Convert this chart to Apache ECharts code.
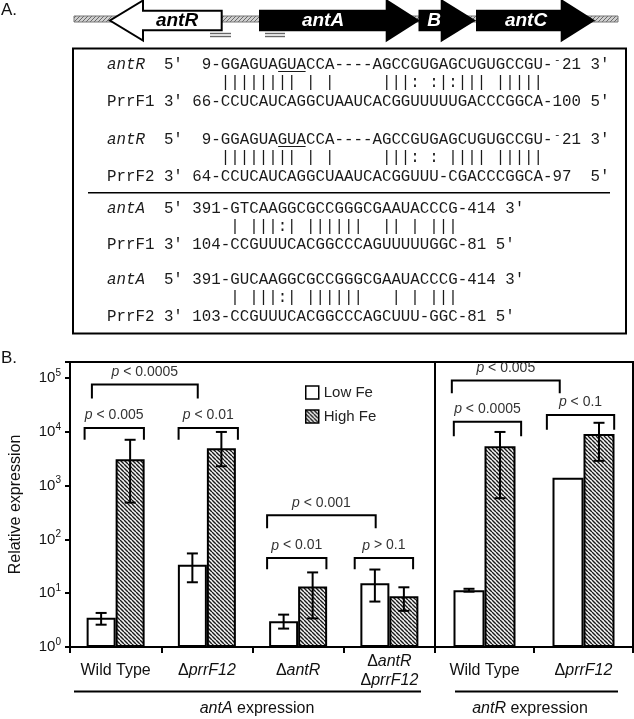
<!DOCTYPE html>
<html>
<head>
<meta charset="utf-8">
<script src="https://cdn.jsdelivr.net/npm/echarts@6.0.0/dist/echarts.min.js"></script>
<style>
html,body{margin:0;padding:0;background:#fff;}
#chart{width:634px;height:719px;}
</style>
</head>
<body>
<div id="chart"></div>
<script>
// ===================== DATA =====================
const leftCategories = ['Wild Type', 'ΔprrF12', 'ΔantR', 'ΔantR\nΔprrF12'];
const rightCategories = ['Wild Type', 'ΔprrF12'];
const seriesNames = ['Low Fe', 'High Fe'];

// antA expression panel
const lowFeLeft = [3.5, 34, 3.0, 15.4];
const lowFeLeftErrLow = [2.6, 16, 2.2, 7.0];
const lowFeLeftErrHigh = [4.3, 55, 4.0, 27.6];
const highFeLeft = [3100, 5000, 13.3, 8.8];
const highFeLeftErrLow = [485, 2300, 3.4, 4.7];
const highFeLeftErrHigh = [7150, 10000, 24.4, 12.9];

// antR expression panel
const lowFeRight = [11.4, 1400];
const lowFeRightErrLow = [10.7, null];
const lowFeRightErrHigh = [12.1, null];
const highFeRight = [5400, 9200];
const highFeRightErrLow = [585, 2900];
const highFeRightErrHigh = [10000, 14800];

const yTickExponents = [0, 1, 2, 3, 4, 5];

// significance brackets: [startCategory, startOffset, endCategory, endOffset, topValue, legValue]
const leftBrackets = [
  [0, -0.26, 1, -0.10, 76000, 42000],
  [0, -0.34, 0, 0.31, 11900, 7150],
  [1, -0.31, 1, 0.34, 11900, 7150],
  [2, -0.34, 3, -0.15, 282, 161],
  [2, -0.34, 2, 0.31, 45, 28],
  [3, -0.38, 3, 0.26, 45, 28]
];
const leftBracketLabels = ['p < 0.0005', 'p < 0.005', 'p < 0.01', 'p < 0.001', 'p < 0.01', 'p > 0.1'];
const rightBrackets = [
  [0, -0.33, 1, -0.24, 91000, 52500],
  [0, -0.31, 0, 0.37, 15500, 8300],
  [1, -0.37, 1, 0.31, 20700, 11000]
];
const rightBracketLabels = ['p < 0.005', 'p < 0.0005', 'p < 0.1'];

// Part A: sequence alignment rows
const alignRows = [
  { y: 65,    italicLabel: true,  text: "antR  5'  9-GGAGUAGUACCA----AGCCGUGAGCUGUGCCGU- 21 3'", supMinusCol: 47, underline: [18, 21] },
  { y: 83.3,  italicLabel: false, text: "            |||||||| | |     |||: :|:||| |||||" },
  { y: 101.6, italicLabel: false, text: "PrrF1 3' 66-CCUCAUCAGGCUAAUCACGGUUUUUGACCCGGCA-100 5'" },
  { y: 140,   italicLabel: true,  text: "antR  5'  9-GGAGUAGUACCA----AGCCGUGAGCUGUGCCGU- 21 3'", supMinusCol: 47, underline: [18, 21] },
  { y: 158.3, italicLabel: false, text: "            |||||||| | |     |||: : |||| |||||" },
  { y: 176.6, italicLabel: false, text: "PrrF2 3' 64-CCUCAUCAGGCUAAUCACGGUUU-CGACCCGGCA-97  5'" },
  { y: 208.4, italicLabel: true,  text: "antA  5' 391-GTCAAGGCGCCGGGCGAAUACCCG-414 3'" },
  { y: 226.7, italicLabel: false, text: "             | |||:| ||||||  || | |||" },
  { y: 245,   italicLabel: false, text: "PrrF1 3' 104-CCGUUUCACGGCCCAGUUUUUGGC-81 5'" },
  { y: 280,   italicLabel: true,  text: "antA  5' 391-GUCAAGGCGCCGGGCGAAUACCCG-414 3'" },
  { y: 298.3, italicLabel: false, text: "             | |||:| ||||||   | | |||" },
  { y: 316.6, italicLabel: false, text: "PrrF2 3' 103-CCGUUUCACGGCCCAGCUUU-GGC-81 5'" }
];

// Part A: gene map (name, bodyStart, headStart, tip)
const genes = [
  { name: 'antR', x0: 221.7, x1: 143, tip: 110, fill: '#fff', textFill: '#000', labelX: 177 },
  { name: 'antA', x0: 260, x1: 386.7, tip: 418, fill: '#000', textFill: '#fff', labelX: 323 },
  { name: 'B',    x0: 419.5, x1: 441.7, tip: 474, fill: '#000', textFill: '#fff', labelX: 434 },
  { name: 'antC', x0: 477, x1: 561.7, tip: 593.3, fill: '#000', textFill: '#fff', labelX: 526 }
];

// ===================== STYLE HELPERS =====================
const SANS = '"Liberation Sans", Arial, Helvetica, sans-serif';
const MONO = '"Liberation Mono", "DejaVu Sans Mono", monospace';

function makeHatch(size, bg, fg, lw, dir) {
  const c = document.createElement('canvas');
  c.width = size; c.height = size;
  const g = c.getContext('2d');
  g.fillStyle = bg; g.fillRect(0, 0, size, size);
  g.strokeStyle = fg; g.lineWidth = lw;
  g.beginPath();
  for (let k = -1; k <= 1; k++) {
    if (dir > 0) { g.moveTo(k * size, 0); g.lineTo(k * size + size, size); }
    else { g.moveTo(k * size, size); g.lineTo(k * size + size, 0); }
  }
  g.stroke();
  return c;
}
const barHatch = { image: makeHatch(4, '#f4f4f4', '#1a1a1a', 1.4, 1), repeat: 'repeat' };
const lineHatch = { image: makeHatch(4, '#d0d0d0', '#6a6a6a', 1, -1), repeat: 'repeat' };

// ===================== PART A GRAPHICS =====================
const graphics = [];
graphics.push({ type: 'text', x: 1, y: 10, style: { text: 'A.', font: '17px ' + SANS, fill: '#111', textVerticalAlign: 'middle' } });
graphics.push({ type: 'text', x: 1, y: 358, style: { text: 'B.', font: '17px ' + SANS, fill: '#111', textVerticalAlign: 'middle' } });

// hatched DNA line
graphics.push({ type: 'rect', shape: { x: 74, y: 16, width: 544, height: 6 }, style: { fill: lineHatch, stroke: '#777', lineWidth: 1 } });
const cy = 20.5, bh = 9.7, hh = 20;
genes.forEach(g => {
  const pts = [[g.x0, cy - bh], [g.x1, cy - bh], [g.x1, cy - hh], [g.tip, cy], [g.x1, cy + hh], [g.x1, cy + bh], [g.x0, cy + bh]];
  graphics.push({ type: 'polygon', shape: { points: pts }, style: { fill: g.fill, stroke: '#000', lineWidth: 2 } });
  graphics.push({ type: 'text', x: g.labelX, y: cy + 0.5, style: { text: g.name, font: 'italic bold 19px ' + SANS, fill: g.textFill, textAlign: 'center', textVerticalAlign: 'middle' } });
});
// double underlines marking target regions
[[210, 231], [265, 285]].forEach(r => {
  [33.5, 36.5].forEach(yy => graphics.push({ type: 'line', shape: { x1: r[0], y1: yy, x2: r[1], y2: yy }, style: { stroke: '#666', lineWidth: 1.4 } }));
});

// alignment box
graphics.push({ type: 'rect', shape: { x: 73, y: 48.5, width: 553, height: 285 }, style: { fill: null, stroke: '#000', lineWidth: 2 } });
graphics.push({ type: 'line', shape: { x1: 88, y1: 192.7, x2: 610, y2: 192.7 }, style: { stroke: '#000', lineWidth: 1.6 } });

const fs = 15.8, cw = fs * 0.6, x0 = 107;
alignRows.forEach(r => {
  let rest = r.text, startCol = 0;
  if (r.italicLabel) {
    graphics.push({ type: 'text', x: x0, y: r.y, style: { text: r.text.slice(0, 4), font: 'italic ' + fs + 'px ' + MONO, fill: '#1a1a1a', textVerticalAlign: 'middle' } });
    rest = r.text.slice(4); startCol = 4;
  }
  graphics.push({ type: 'text', x: x0 + startCol * cw, y: r.y, style: { text: rest, font: fs + 'px ' + MONO, fill: '#1a1a1a', textVerticalAlign: 'middle' } });
  if (r.supMinusCol) {
    graphics.push({ type: 'text', x: x0 + (r.supMinusCol + 0.5) * cw, y: r.y - 5, style: { text: '-', font: '11px ' + MONO, fill: '#1a1a1a', textAlign: 'center', textVerticalAlign: 'middle' } });
  }
  if (r.underline) {
    graphics.push({ type: 'line', shape: { x1: x0 + r.underline[0] * cw + 0.5, y1: r.y + 6.5, x2: x0 + r.underline[1] * cw - 0.5, y2: r.y + 6.5 }, style: { stroke: '#1a1a1a', lineWidth: 1 } });
  }
});

// group labels under panel B
graphics.push({ type: 'line', shape: { x1: 74, y1: 691.5, x2: 421, y2: 691.5 }, style: { stroke: '#000', lineWidth: 2 } });
graphics.push({ type: 'line', shape: { x1: 455, y1: 691.5, x2: 618, y2: 691.5 }, style: { stroke: '#000', lineWidth: 2 } });
const groupRich = {
  i: { fontStyle: 'italic', fontSize: 16, fontFamily: SANS, fill: '#111' },
  n: { fontSize: 16, fontFamily: SANS, fill: '#111' }
};
graphics.push({ type: 'text', x: 257, y: 709, style: { text: '{i|antA}{n| expression}', rich: groupRich, font: '16px ' + SANS, fill: '#111', textAlign: 'center', textVerticalAlign: 'middle' } });
graphics.push({ type: 'text', x: 530, y: 709, style: { text: '{i|antR}{n| expression}', rich: groupRich, font: '16px ' + SANS, fill: '#111', textAlign: 'center', textVerticalAlign: 'middle' } });

// ===================== PART B SERIES =====================
function errData(lo, hi, side) {
  const out = [];
  lo.forEach((v, i) => { if (v != null) out.push([i, side, v, hi[i]]); });
  return out;
}
function errRender(bw) {
  return function (params, api) {
    const c = api.value(0), side = api.value(1), lo = api.value(2), hi = api.value(3);
    const pt = api.coord([c, hi]), pb = api.coord([c, lo]);
    const x = pt[0] + side * bw / 2;
    const st = { stroke: '#000', lineWidth: 2 };
    return { type: 'group', children: [
      { type: 'line', shape: { x1: x, y1: pt[1], x2: x, y2: pb[1] }, style: st },
      { type: 'line', shape: { x1: x - 5.5, y1: pt[1], x2: x + 5.5, y2: pt[1] }, style: st },
      { type: 'line', shape: { x1: x - 5.5, y1: pb[1], x2: x + 5.5, y2: pb[1] }, style: st }
    ] };
  };
}
const pRich = {
  i: { fontStyle: 'italic', fontSize: 14, fontFamily: SANS, fill: '#333' },
  n: { fontSize: 14, fontFamily: SANS, fill: '#333' }
};
function bracketRender(labels) {
  return function (params, api) {
    const i = params.dataIndex;
    const c1 = api.value(0), o1 = api.value(1), c2 = api.value(2), o2 = api.value(3), top = api.value(4), leg = api.value(5);
    const band = api.coord([1, top])[0] - api.coord([0, top])[0];
    const x1 = api.coord([c1, top])[0] + o1 * band;
    const x2 = api.coord([c2, top])[0] + o2 * band;
    const yT = api.coord([c1, top])[1], yL = api.coord([c1, leg])[1];
    const lab = labels[i];
    return { type: 'group', children: [
      { type: 'polyline', shape: { points: [[x1, yL], [x1, yT], [x2, yT], [x2, yL]] }, style: { stroke: '#000', lineWidth: 2, fill: null } },
      { type: 'text', x: (x1 + x2) / 2, y: yT - 12.5, style: { text: '{i|' + lab.slice(0, 1) + '}{n|' + lab.slice(1) + '}', rich: pRich, font: '14px ' + SANS, fill: '#333', textAlign: 'center', textVerticalAlign: 'middle' } }
    ] };
  };
}

function xAxisFor(gridIndex, cats) {
  return {
    type: 'category', gridIndex, data: cats,
    axisLine: { show: true, onZero: false, lineStyle: { color: '#000', width: 2 } },
    axisTick: { show: true, length: 6, interval: 0, lineStyle: { color: '#000', width: 2 } },
    axisLabel: {
      interval: 0, margin: 24, verticalAlign: 'middle', lineHeight: 18.5,
      fontSize: 16, fontFamily: SANS, color: '#111',
      formatter: v => v.replace(/(prrF12|antR)/g, '{i|$1}'),
      rich: { i: { fontStyle: 'italic', fontSize: 16, fontFamily: SANS, color: '#111', lineHeight: 18.5 } }
    },
    splitLine: { show: false }
  };
}
function yAxisFor(gridIndex, showLabels) {
  return {
    type: 'log', logBase: 10, gridIndex, min: 1, max: 200000, splitNumber: 5,
    axisLine: { show: showLabels, lineStyle: { color: '#000', width: 2 } },
    axisTick: { show: showLabels, length: 5, lineStyle: { color: '#000', width: 2 } },
    splitLine: { show: false }, minorTick: { show: false },
    axisLabel: {
      show: showLabels, margin: 9,
      formatter: v => {
        const e = Math.log10(v);
        const r = Math.round(e);
        if (Math.abs(e - r) > 1e-6 || yTickExponents.indexOf(r) < 0) return '';
        return '{b|10}{s|' + r + '}';
      },
      rich: {
        b: { fontSize: 15, fontFamily: SANS, color: '#111' },
        s: { fontSize: 10, fontFamily: SANS, color: '#111', padding: [0, 0, 10, 0] }
      }
    },
    name: showLabels ? 'Relative expression' : '',
    nameLocation: 'middle', nameGap: 46, nameRotate: 90,
    nameTextStyle: { fontSize: 16, fontFamily: SANS, color: '#111' }
  };
}

const option = {
  animation: false,
  backgroundColor: '#fff',
  graphic: { elements: graphics },
  legend: {
    data: seriesNames, orient: 'vertical', left: 305, top: 385, padding: 0,
    itemWidth: 13, itemHeight: 13, itemGap: 9, icon: 'rect', selectedMode: false,
    textStyle: { fontSize: 15, fontFamily: SANS, color: '#222', lineHeight: 13 },
    itemStyle: { borderColor: '#000', borderWidth: 1.5 }
  },
  grid: [
    { left: 70, right: 199, top: 362, bottom: 72, show: true, borderColor: '#000', borderWidth: 2, backgroundColor: 'transparent', containLabel: false, outerBoundsMode: 'none' },
    { left: 435, right: 1, top: 362, bottom: 72, show: true, borderColor: '#000', borderWidth: 2, backgroundColor: 'transparent', containLabel: false, outerBoundsMode: 'none' }
  ],
  xAxis: [xAxisFor(0, leftCategories), xAxisFor(1, rightCategories)],
  yAxis: [yAxisFor(0, true), yAxisFor(1, false)],
  series: [
    { type: 'bar', name: 'Low Fe', xAxisIndex: 0, yAxisIndex: 0, data: lowFeLeft, barWidth: 29, barGap: '0%',
      itemStyle: { color: '#fff', borderColor: '#000', borderWidth: 2 } },
    { type: 'bar', name: 'High Fe', xAxisIndex: 0, yAxisIndex: 0, data: highFeLeft, barWidth: 29, barGap: '0%',
      itemStyle: { color: barHatch, borderColor: '#000', borderWidth: 2 } },
    { type: 'bar', name: 'Low Fe', xAxisIndex: 1, yAxisIndex: 1, data: lowFeRight, barWidth: 31, barGap: '0%',
      itemStyle: { color: '#fff', borderColor: '#000', borderWidth: 2 } },
    { type: 'bar', name: 'High Fe', xAxisIndex: 1, yAxisIndex: 1, data: highFeRight, barWidth: 31, barGap: '0%',
      itemStyle: { color: barHatch, borderColor: '#000', borderWidth: 2 } },
    { type: 'custom', name: 'errLeft', xAxisIndex: 0, yAxisIndex: 0, z: 5, silent: true, clip: false,
      data: errData(lowFeLeftErrLow, lowFeLeftErrHigh, -1).concat(errData(highFeLeftErrLow, highFeLeftErrHigh, 1)),
      encode: { x: 0, y: [2, 3] }, renderItem: errRender(29) },
    { type: 'custom', name: 'errRight', xAxisIndex: 1, yAxisIndex: 1, z: 5, silent: true, clip: false,
      data: errData(lowFeRightErrLow, lowFeRightErrHigh, -1).concat(errData(highFeRightErrLow, highFeRightErrHigh, 1)),
      encode: { x: 0, y: [2, 3] }, renderItem: errRender(31) },
    { type: 'custom', name: 'bracketsLeft', xAxisIndex: 0, yAxisIndex: 0, z: 5, silent: true, clip: false,
      data: leftBrackets, encode: { x: 0, y: 4 }, renderItem: bracketRender(leftBracketLabels) },
    { type: 'custom', name: 'bracketsRight', xAxisIndex: 1, yAxisIndex: 1, z: 5, silent: true, clip: false,
      data: rightBrackets, encode: { x: 0, y: 4 }, renderItem: bracketRender(rightBracketLabels) }
  ]
};

const chart = echarts.init(document.getElementById('chart'), null, { renderer: 'canvas', width: 634, height: 719 });
chart.setOption(option);
</script>
</body>
</html>
